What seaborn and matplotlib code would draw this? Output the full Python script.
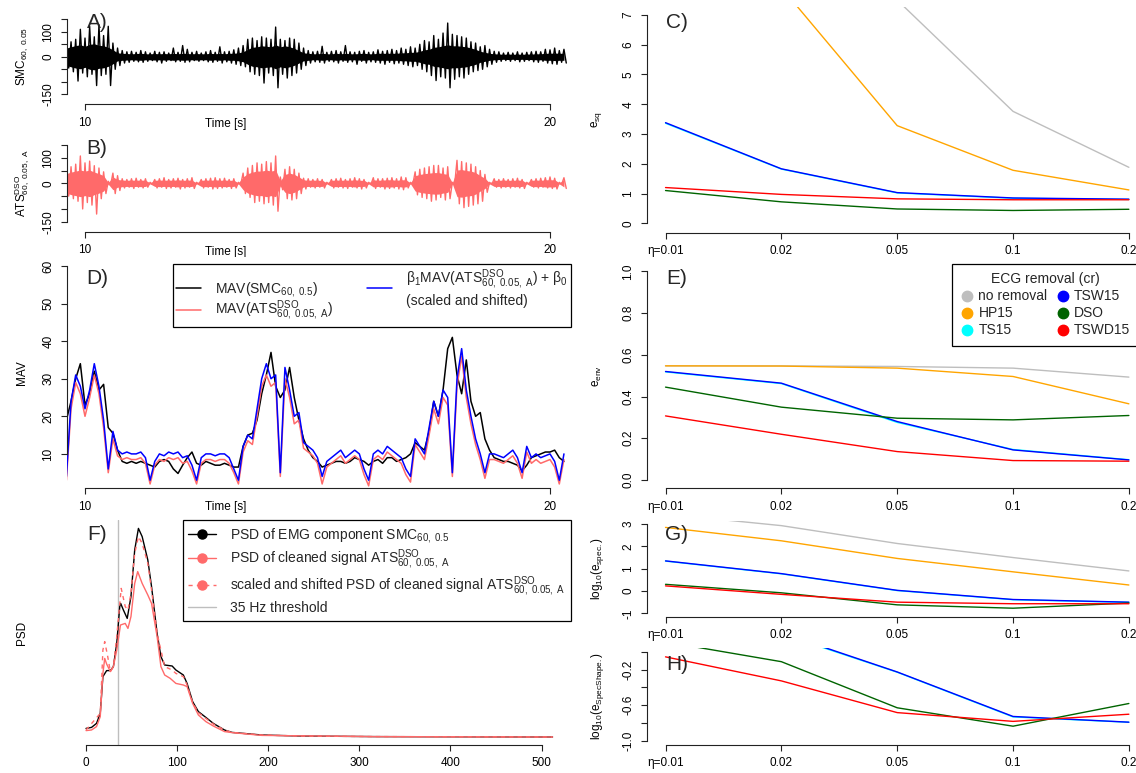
import numpy as np
import pandas as pd
import matplotlib
matplotlib.use("Agg")
import matplotlib.pyplot as plt
import seaborn as sns
from matplotlib.lines import Line2D

# ---------------------------------------------------------------- data
# time axis of the signal panels: bins of 0.1 s starting at 9.6 s
T0, DT = 9.6, 0.1

# A) EMG component SMC_{60,0.05}: max / min of the trace in every bin
smc_hi = [45, 60, 70, 110, 75, 122, 80, 128, 85, 122,
          55, 35, 25, 20, 22, 18, 25, 20, 15, 22,
          18, 20, 15, 35, 18, 45, 30, 18, 22, 15,
          20, 25, 18, 40, 20, 22, 28, 35, 45, 70,
          75, 65, 80, 75, 70, 119, 70, 65, 75, 70,
          55, 35, 25, 20, 22, 42, 18, 22, 25, 20,
          45, 20, 18, 22, 25, 18, 20, 28, 22, 25,
          30, 25, 35, 30, 40, 35, 50, 65, 60, 85,
          70, 95, 135, 90, 85, 80, 75, 60, 55, 40,
          45, 30, 22, 20, 15, 18, 15, 20, 15, 18,
          20, 22, 20, 30, 28, 35, 25, 30]
smc_lo = [-45, -60, -97, -65, -80, -70, -115, -75, -70, -115,
          -50, -35, -25, -22, -18, -20, -22, -18, -15, -20,
          -25, -18, -15, -20, -18, -22, -20, -15, -18, -15,
          -20, -22, -18, -25, -20, -25, -30, -35, -40, -60,
          -70, -75, -105, -65, -75, -124, -70, -85, -75, -65,
          -50, -35, -25, -20, -22, -25, -18, -20, -25, -18,
          -22, -20, -30, -18, -25, -20, -22, -25, -30, -22,
          -28, -25, -30, -35, -40, -35, -50, -60, -75, -95,
          -80, -85, -124, -90, -80, -85, -70, -60, -55, -50,
          -40, -30, -22, -18, -15, -18, -15, -20, -18, -15,
          -20, -22, -18, -25, -28, -30, -22, -25]
# amplitude of the solid core of the trace in every bin
smc_core = [35, 40, 45, 48, 42, 50, 52, 46, 44, 38,
            28, 16, 14, 13, 12, 13, 14, 12, 12, 13,
            12, 13, 12, 14, 12, 14, 13, 12, 13, 12,
            12, 14, 12, 14, 12, 14, 14, 16, 20, 30,
            38, 40, 44, 42, 40, 48, 40, 44, 40, 34,
            25, 16, 14, 12, 12, 14, 12, 12, 14, 12,
            14, 12, 12, 13, 14, 12, 12, 14, 14, 14,
            14, 14, 16, 16, 18, 18, 22, 28, 30, 38,
            40, 44, 48, 44, 44, 42, 40, 35, 30, 22,
            18, 14, 12, 11, 10, 11, 10, 11, 10, 11,
            11, 12, 12, 14, 14, 15, 14, 14]

# B) cleaned signal ATS^DSO_{60,0.05,A}: max / min of the trace in every bin
ats_hi = [50, 65, 75, 107, 80, 87, 69, 60, 45, 8,
          40, 30, 18, 15, 18, 20, 15, 18, 4, 15,
          18, 22, 15, 18, 20, 15, 18, 22, 4, 15,
          18, 20, 22, 18, 20, 15, 18, 4, 40, 60,
          70, 80, 75, 85, 80, 107, 25, 55, 65, 55,
          40, 20, 18, 15, 18, 15, 4, 15, 18, 20,
          15, 18, 22, 18, 15, 4, 22, 18, 18, 20,
          22, 18, 25, 22, 4, 45, 55, 60, 65, 70,
          70, 60, 65, 4, 90, 85, 80, 75, 65, 50,
          35, 4, 18, 15, 18, 15, 18, 20, 15, 4,
          15, 18, 20, 22, 25, 20, 4, 22]
ats_lo = [-50, -60, -70, -100, -75, -85, -120, -60, -40, -8,
          -40, -28, -18, -15, -20, -15, -18, -15, -4, -18,
          -15, -20, -18, -15, -22, -18, -15, -20, -4, -18,
          -15, -22, -20, -18, -15, -20, -18, -4, -40, -55,
          -75, -70, -80, -75, -85, -109, -25, -60, -65, -60,
          -40, -22, -15, -18, -15, -18, -4, -18, -15, -18,
          -20, -15, -18, -22, -18, -4, -20, -15, -22, -20,
          -18, -22, -25, -18, -4, -45, -55, -60, -70, -65,
          -55, -65, -60, -4, -80, -95, -90, -85, -80, -70,
          -35, -4, -15, -18, -15, -18, -15, -18, -20, -4,
          -15, -18, -15, -18, -20, -22, -4, -20]
ats_core = [38, 44, 48, 52, 48, 52, 44, 38, 30, 3,
            25, 15, 13, 12, 13, 12, 13, 12, 2, 12,
            13, 12, 13, 12, 14, 12, 13, 12, 2, 12,
            13, 12, 14, 12, 13, 12, 12, 2, 25, 38,
            44, 48, 48, 52, 48, 52, 10, 35, 40, 35,
            25, 14, 12, 13, 12, 12, 2, 12, 13, 12,
            13, 12, 14, 12, 12, 2, 14, 12, 13, 14,
            14, 12, 14, 14, 2, 30, 35, 38, 40, 42,
            42, 38, 35, 2, 52, 54, 50, 48, 42, 30,
            20, 2, 12, 12, 13, 12, 12, 13, 12, 2,
            12, 13, 12, 14, 14, 14, 2, 14]

# D) mean absolute value envelopes, one value per bin
mav_smc = [19, 24, 30, 34, 23, 26, 32, 27, 28.5, 17,
           15.5, 11, 8, 7.5, 8, 7.5, 8, 7.5, 7, 6.5,
           8, 8.5, 8, 6, 4.8, 7, 9, 10.5, 7.5, 7,
           8, 7.5, 7, 7, 7.5, 7, 6.5, 6.5, 12, 15,
           15.5, 19, 26, 31, 37, 28, 25, 27, 33, 25,
           19, 14, 11, 9, 8, 6.5, 7, 7.5, 8, 8,
           7.5, 8, 9, 8.5, 8, 7, 8, 8.5, 7.5, 9,
           9, 8, 8.5, 9, 10, 13, 12, 11, 16, 24,
           20, 27, 38, 41, 31, 26, 35, 24, 20, 21,
           14, 11, 9, 8.5, 8, 8, 7.5, 7, 5.5, 7,
           9, 9.5, 10, 10.5, 10.5, 11, 9, 8]
mav_ats = [3, 22, 29, 26, 20, 25, 31, 26, 17, 5,
           14, 9.5, 8.5, 9, 8.5, 8.5, 9, 7.5, 2, 7,
           8.5, 8, 9, 8.5, 9, 7.5, 8, 5.5, 2, 7.5,
           8.5, 8.5, 8, 8.5, 8.5, 7.5, 5, 2, 10.5, 13.5,
           12.5, 20, 28, 31, 28, 29, 4, 30, 25, 18,
           19, 11.5, 10.5, 9.5, 7.5, 2, 6.5, 7.5, 8.5, 9.5,
           7.5, 8.5, 9.5, 8.5, 4.5, 1.5, 8.5, 9.5, 8.5, 10.5,
           9.5, 8.5, 7.5, 4.5, 2.5, 12.5, 10.5, 8.5, 15, 22,
           18, 25, 23, 4, 28, 36, 25, 18, 12.5, 8.5,
           3.5, 8.5, 8.5, 8, 7.5, 8.5, 9.5, 7.5, 3.5, 10.5,
           7.5, 8.5, 7.5, 8, 8.5, 6.5, 2, 8.5]
mav_fit = [4, 24, 31, 28, 22, 27, 34, 28, 19, 6,
           16, 11, 10, 10.5, 10, 10, 10.5, 9, 3, 8,
           10, 9.5, 10.5, 10, 10.5, 9, 9.5, 7, 3, 9,
           10, 10, 9.5, 10, 10, 9, 6, 3, 12, 15,
           14, 22, 30, 34, 30, 31, 5, 33, 27, 20,
           21, 13, 12, 11, 9, 4, 8, 9, 10, 11,
           9, 10, 11, 10, 6, 3, 10, 11, 10, 12,
           11, 10, 9, 6, 4, 14, 12, 10, 17, 24,
           20, 27, 25, 5, 30, 38, 27, 20, 14, 10,
           5, 10, 10, 9.5, 9, 10, 11, 9, 5, 12,
           9, 10, 9, 9.5, 10, 8, 3, 10]

# F) power spectral densities (arbitrary units) over frequency [Hz]
f_smc = [0, 6, 11.5, 15.6, 18.5, 22.6, 26.7, 30, 33.7, 37,
         38, 41, 45.2, 49.3, 53.4, 57.5, 61.6, 67.8, 71.9, 78,
         82.2, 86.3, 94.5, 98.6, 106.8, 110.9, 117, 123.3, 131.5, 139.7,
         152, 160.2, 193, 234, 316, 512]
psd_smc = [5.8, 6.3, 8.3, 13.3, 31.7, 34.7, 34.7, 36.7, 48.3, 66.7,
           68.3, 65, 60.8, 71.7, 95, 105.8, 101.7, 90, 76.7, 53.3,
           41.7, 37.5, 37, 35, 32.5, 28.3, 19.2, 14.2, 11.3, 8.3,
           5, 3.8, 2.5, 2, 1.7, 1.5]
f_ats = [0, 6, 11.5, 15.6, 18.5, 20.5, 22.6, 26.7, 30, 33.7,
         37.8, 43, 46, 49.3, 53.4, 56.7, 61.6, 67.8, 71.9, 78,
         82.2, 86.3, 92.4, 98.6, 106.8, 110.9, 117, 123.3, 131.5, 139.7,
         152, 160.2, 193, 316, 512]
psd_ats = [4.7, 5, 6.7, 11.7, 33.3, 40.8, 38, 34.2, 36.7, 45,
           57.5, 58.3, 55.8, 61.7, 78.3, 84.2, 78.3, 72.5, 68.3, 51.7,
           36.7, 32.5, 30.8, 28.3, 27.5, 26.7, 18.3, 12.5, 9.2, 7,
           4.2, 3.7, 2.3, 1.7, 1.5]
f_ats_scaled = [0, 15.6, 18.5, 20.5, 23.8, 26.7, 30, 33.7, 38.6, 43,
                46, 49.3, 53.4, 57.5, 61.6, 67.8, 71.9, 78, 86.3, 94.5,
                98.6, 106.8, 110.9, 117, 123.3, 131.5, 139.7, 152, 160.2, 193,
                234, 316, 512]
psd_ats_scaled = [5, 13.3, 45, 49.2, 41.7, 34.2, 36.7, 51.7, 75.8, 66.7,
                  65, 73.3, 93.3, 101.7, 98.3, 88.3, 75, 53.3, 36.7, 35,
                  33.3, 31.7, 27.5, 18.7, 13.7, 10.8, 8, 5, 3.8, 2.5,
                  2, 1.7, 1.5]
threshold_hz = 35

# C, E, G, H) error measures per window parameter eta and ECG removal method
eta_labels = ["\u03b7=0.01", "0.02", "0.05", "0.1", "0.2"]
methods = ["no removal", "HP15", "TS15", "TSW15", "DSO", "TSWD15"]
method_colors = ["#BEBEBE", "#FFA500", "#00FFFF", "#0000FF", "#006400", "#FF0000"]

e_sq = {
    "no removal": [20.0, 14.0, 7.5, 3.76, 1.88],
    "HP15": [12.0, 7.92, 3.28, 1.78, 1.12],
    "TS15": [3.36, 1.82, 1.02, 0.84, 0.80],
    "TSW15": [3.38, 1.83, 1.03, 0.85, 0.81],
    "DSO": [1.10, 0.72, 0.48, 0.43, 0.47],
    "TSWD15": [1.20, 0.97, 0.82, 0.79, 0.79],
}
e_env = {
    "no removal": [0.547, 0.547, 0.544, 0.536, 0.493],
    "HP15": [0.547, 0.546, 0.536, 0.496, 0.365],
    "TS15": [0.518, 0.462, 0.276, 0.146, 0.097],
    "TSW15": [0.520, 0.464, 0.280, 0.144, 0.096],
    "DSO": [0.445, 0.349, 0.296, 0.288, 0.309],
    "TSWD15": [0.307, 0.219, 0.136, 0.093, 0.090],
}
log_e_spec = {
    "no removal": [3.45, 2.93, 2.13, 1.50, 0.90],
    "HP15": [2.85, 2.25, 1.46, 0.86, 0.27],
    "TS15": [1.34, 0.77, 0.02, -0.39, -0.51],
    "TSW15": [1.35, 0.78, 0.03, -0.38, -0.50],
    "DSO": [0.30, -0.08, -0.62, -0.77, -0.54],
    "TSWD15": [0.23, -0.15, -0.50, -0.57, -0.57],
}
log_e_specshape = {
    "TS15": [0.50, 0.20, -0.23, -0.73, -0.79],
    "TSW15": [0.50, 0.21, -0.227, -0.725, -0.789],
    "DSO": [0.11, -0.112, -0.628, -0.834, -0.58],
    "TSWD15": [-0.058, -0.327, -0.682, -0.78, -0.70],
}

# ---------------------------------------------------------------- style
W, H, DPI = 1136, 773, 100
sns.set_theme(style="ticks")
plt.rcParams.update({
    "font.family": ["Liberation Sans", "DejaVu Sans"],
    "mathtext.fontset": "custom",
    "mathtext.rm": "Liberation Sans",
    "mathtext.it": "Liberation Sans:italic",
    "mathtext.bf": "Liberation Sans:bold",
    "axes.unicode_minus": False,
    "axes.edgecolor": "#222222",
    "axes.linewidth": 0.8,
    "xtick.color": "#222222",
    "ytick.color": "#222222",
    "xtick.labelcolor": "black",
    "ytick.labelcolor": "black",
    "xtick.major.size": 4,
    "ytick.major.size": 4,
    "xtick.major.width": 0.8,
    "ytick.major.width": 0.8,
    "xtick.major.pad": 5,
    "ytick.major.pad": 5,
    "xtick.labelsize": 8.5,
    "ytick.labelsize": 8.5,
    "axes.labelsize": 8.5,
    "axes.labelcolor": "black",
    "legend.frameon": True,
})

SALMON = "#FF6A6A"
fig = plt.figure(figsize=(W / DPI, H / DPI), dpi=DPI)
fig.patch.set_facecolor("white")


def px_axes(left, top, right, bottom):
    """Axes placed by its pixel box on the canvas."""
    return fig.add_axes([left / W, 1 - bottom / H, (right - left) / W, (bottom - top) / H])


def frame(ax, xbounds, xticks, xlabels, ybounds, yticks, ylabels, xout=0.0):
    sns.despine(ax=ax)
    ax.set_facecolor("white")
    ax.spines["bottom"].set_bounds(*xbounds)
    ax.spines["bottom"].set_position(("outward", xout))
    ax.set_xticks(xticks, xlabels)
    if ybounds is None:
        ax.spines["left"].set_visible(False)
        ax.set_yticks([])
    else:
        ax.spines["left"].set_bounds(*ybounds)
        ax.set_yticks(yticks, ylabels)
        ax.tick_params(axis="y", labelrotation=90)
        for lab in ax.get_yticklabels():
            lab.set_va("center")
    ax.grid(False)


def set_ylab(ax, text, xpix_offset, width_px):
    ax.set_ylabel(text, fontsize=8.5)
    ax.yaxis.label.set_va("center")
    ax.yaxis.set_label_coords(xpix_offset / width_px, 0.5)


def set_xlab(ax, text, xpix, ypix, box):
    left, top, right, bottom = box
    ax.set_xlabel(text, fontsize=8.5)
    ax.xaxis.label.set_va("center")
    ax.xaxis.set_label_coords((xpix - left) / (right - left),
                              (bottom - ypix) / (bottom - top))


def letter(x, y, s):
    fig.text(x / W, 1 - y / H, s, ha="center", va="center", fontsize=15)


n_bins = len(smc_hi)
t = T0 + DT * np.arange(n_bins)
t_zz = np.empty(2 * n_bins)
t_zz[0::2] = t
t_zz[1::2] = t + DT / 2


def zigzag(hi, lo):
    y = np.empty(2 * len(hi))
    y[0::2] = hi
    y[1::2] = lo
    return y


def dense_trace(ax, hi, lo, core, color):
    """A densely oscillating trace: its solid core plus the swings out to min/max."""
    core = np.asarray(core, dtype=float)
    ax.fill_between(t, -core, core, color=color, linewidth=0)
    sns.lineplot(x=t_zz, y=zigzag(hi, lo), sort=False, estimator=None,
                 color=color, linewidth=1.0, ax=ax)


XLIM_T = (10 + (67 - 85) / 46.5, 10 + (568 - 85) / 46.5)
SIG_TICKS = [-150, -100, -50, 0, 50, 100, 150]
SIG_LABELS = ["-150", "", "", "0", "", "100", ""]

smc_lab = r"SMC$_{\mathrm{60,\ 0.05}}$"
ats_lab = r"ATS$^{\mathrm{DSO}}_{\mathrm{60,\ 0.05,\ A}}$"

# ---------------------------------------------------------------- A
boxA = (67, 16.3, 568, 97.3)
axA = px_axes(*boxA)
dense_trace(axA, smc_hi, smc_lo, smc_core, "black")
axA.set_xlim(*XLIM_T)
axA.set_ylim(-162, 162)
frame(axA, (10, 20), [10, 20], ["10", "20"], (-150, 150), SIG_TICKS, SIG_LABELS, xout=5)
set_ylab(axA, smc_lab, -45, 501)
set_xlab(axA, "Time [s]", 226, 124, boxA)
letter(97, 22, "A)")

# ---------------------------------------------------------------- B
boxB = (67, 141.9, 568, 224.8)
axB = px_axes(*boxB)
dense_trace(axB, ats_hi, ats_lo, ats_core, SALMON)
axB.set_xlim(*XLIM_T)
axB.set_ylim(-162, 162)
frame(axB, (10, 20), [10, 20], ["10", "20"], (-150, 150), SIG_TICKS, SIG_LABELS, xout=5)
set_ylab(axB, ats_lab, -45, 501)
set_xlab(axB, "Time [s]", 226, 251.7, boxB)
letter(97, 149, "B)")

# ---------------------------------------------------------------- D
boxD = (67, 257.3, 568, 488.3)
axD = px_axes(*boxD)
mav_names = ["smc", "ats", "fit"]
mav_df = pd.DataFrame({
    "t": np.tile(t, 3),
    "MAV": mav_smc + mav_ats + mav_fit,
    "series": np.repeat(mav_names, n_bins),
})
sns.lineplot(data=mav_df, x="t", y="MAV", hue="series", hue_order=mav_names,
             palette=["black", SALMON, "#0000FF"], estimator=None, legend=False,
             linewidth=1.1, ax=axD)
axD.set_xlim(*XLIM_T)
axD.set_ylim(0.85, 62.3)
frame(axD, (10, 20), [10, 20], ["10", "20"], (10, 60), list(range(10, 61, 10)),
      [str(v) for v in range(10, 61, 10)])
set_ylab(axD, "MAV", -45, 501)
set_xlab(axD, "Time [s]", 226, 506.7, boxD)
letter(97, 279, "D)")

d_handles = [Line2D([], [], color="black", lw=1.1),
             Line2D([], [], color=SALMON, lw=1.1),
             Line2D([], [], color="#0000FF", lw=1.1)]
d_labels = [r"MAV(SMC$_{\mathrm{60,\ 0.5}}$)",
            r"MAV(ATS$^{\mathrm{DSO}}_{\mathrm{60,\ 0.05,\ A}}$)",
            "\u03b2$_1$MAV(ATS$^{\\mathrm{DSO}}_{\\mathrm{60,\\ 0.05,\\ A}}$) + \u03b2$_0$\n(scaled and shifted)"]
legD = axD.legend(d_handles, d_labels, ncol=2, loc="upper right",
                  bbox_to_anchor=(571 / W, 1 - 264 / H), bbox_transform=fig.transFigure,
                  borderaxespad=0, fontsize=10, handlelength=1.8, handletextpad=1.0,
                  columnspacing=2.4, labelspacing=0.0, borderpad=0.25,
                  fancybox=False, edgecolor="black", framealpha=1)
legD.get_frame().set_linewidth(0.9)

# ---------------------------------------------------------------- F
boxF = (67, 520, 568, 745)
axF = px_axes(*boxF)
axF.axvline(threshold_hz, color="#BEBEBE", lw=1.0)
sns.lineplot(x=f_smc, y=psd_smc, sort=False, estimator=None, color="black",
             linewidth=1.0, ax=axF)
sns.lineplot(x=f_ats, y=psd_ats, sort=False, estimator=None, color=SALMON,
             linewidth=1.0, ax=axF)
sns.lineplot(x=f_ats_scaled, y=psd_ats_scaled, sort=False, estimator=None,
             color=SALMON, linewidth=1.0, linestyle=(0, (3, 3)), ax=axF)
axF.set_xlim(-20.9, 529)
axF.set_ylim(-2.5, 110)
frame(axF, (0, 500), list(range(0, 501, 100)), [str(v) for v in range(0, 501, 100)],
      None, None, None)
set_ylab(axF, "PSD", -45, 501)
axF.set_xlabel("")
letter(97, 534, "F)")

f_handles = [Line2D([], [], color="black", lw=1.0, marker="o", markersize=6.5),
             Line2D([], [], color=SALMON, lw=1.0, marker="o", markersize=6.5),
             Line2D([], [], color=SALMON, lw=1.0, ls=(0, (3, 3)), marker="o", markersize=6.5),
             Line2D([], [], color="#BEBEBE", lw=1.0)]
f_labels = [r"PSD of EMG component SMC$_{\mathrm{60,\ 0.5}}$",
            r"PSD of cleaned signal ATS$^{\mathrm{DSO}}_{\mathrm{60,\ 0.05,\ A}}$",
            r"scaled and shifted PSD of cleaned signal ATS$^{\mathrm{DSO}}_{\mathrm{60,\ 0.05,\ A}}$",
            f"{threshold_hz} Hz threshold"]
legF = axF.legend(f_handles, f_labels, loc="upper right",
                  bbox_to_anchor=(571 / W, 1 - 520 / H), bbox_transform=fig.transFigure,
                  borderaxespad=0, fontsize=10, handlelength=2.0, handletextpad=1.0,
                  labelspacing=0.2, borderpad=0.4, fancybox=False,
                  edgecolor="black", framealpha=1)
legF.get_frame().set_linewidth(0.9)

# ---------------------------------------------------------------- right column
eta_pos = list(range(len(eta_labels)))


def error_panel(box, data, ylim, ybounds, yticks, ylabels, ylab, xout=0.0):
    ax = px_axes(*box)
    names = [m for m in methods if m in data]
    df = pd.DataFrame({
        "eta": eta_pos * len(names),
        "value": sum((data[m] for m in names), []),
        "method": np.repeat(names, len(eta_pos)),
    })
    sns.lineplot(data=df, x="eta", y="value", hue="method", hue_order=names,
                 palette=[method_colors[methods.index(m)] for m in names],
                 estimator=None, legend=False, linewidth=1.0, ax=ax)
    ax.set_xlim(-0.16, 4.16)
    ax.set_ylim(*ylim)
    frame(ax, (0, 4), eta_pos, eta_labels, ybounds, yticks, ylabels, xout=xout)
    ax.set_xlabel("")
    set_ylab(ax, ylab, -50, 500.4)
    return ax


axC = error_panel((647, 6.6, 1147.4, 231.6), e_sq, (-0.28, 7.28), (0, 7),
                  list(range(8)), [str(v) for v in range(8)], r"e$_{\mathrm{sq}}$", xout=0.8)
letter(677, 23, "C)")

env_ticks = [0.0, 0.2, 0.4, 0.6, 0.8, 1.0]
axE = error_panel((647, 263.0, 1147.4, 488.3), e_env, (-0.04, 1.04), (0, 1),
                  env_ticks, [f"{v:.1f}" for v in env_ticks], r"e$_{\mathrm{env}}$")
letter(677, 278, "E)")

e_handles = [Line2D([], [], ls="none", marker="o", markersize=7.5, color=c)
             for c in method_colors]
legE = axE.legend(e_handles, methods, ncol=2, loc="upper left",
                  bbox_to_anchor=(952 / W, 1 - 264 / H), bbox_transform=fig.transFigure,
                  borderaxespad=0, title="ECG removal (cr)", title_fontsize=10,
                  fontsize=10, handlelength=1.0, handletextpad=0.3, columnspacing=0.6,
                  labelspacing=0.22, borderpad=0.6, fancybox=False, edgecolor="black",
                  framealpha=1)
legE.get_frame().set_linewidth(0.9)

spec_ticks = [-1, 0, 1, 2, 3]
axG = error_panel((647, 520.5, 1147.4, 616.9), log_e_spec, (-1.16, 3.16), (-1, 3),
                  spec_ticks, [str(v) for v in spec_ticks],
                  r"log$_{10}$(e$_{\mathrm{spec.}}$)")
letter(677, 535, "G)")

shape_ticks = [-1.0, -0.8, -0.6, -0.4, -0.2, 0.0]
shape_labels = ["-1.0", "", "-0.6", "", "-0.2", ""]
axH = error_panel((647, 648.1, 1147.4, 744.6), log_e_specshape, (-1.04, 0.04), (-1, 0),
                  shape_ticks, shape_labels, r"log$_{10}$(e$_{\mathrm{SpecShape.}}$)")
letter(677, 664, "H)")

fig.savefig("out.png", dpi=DPI, facecolor="white")
